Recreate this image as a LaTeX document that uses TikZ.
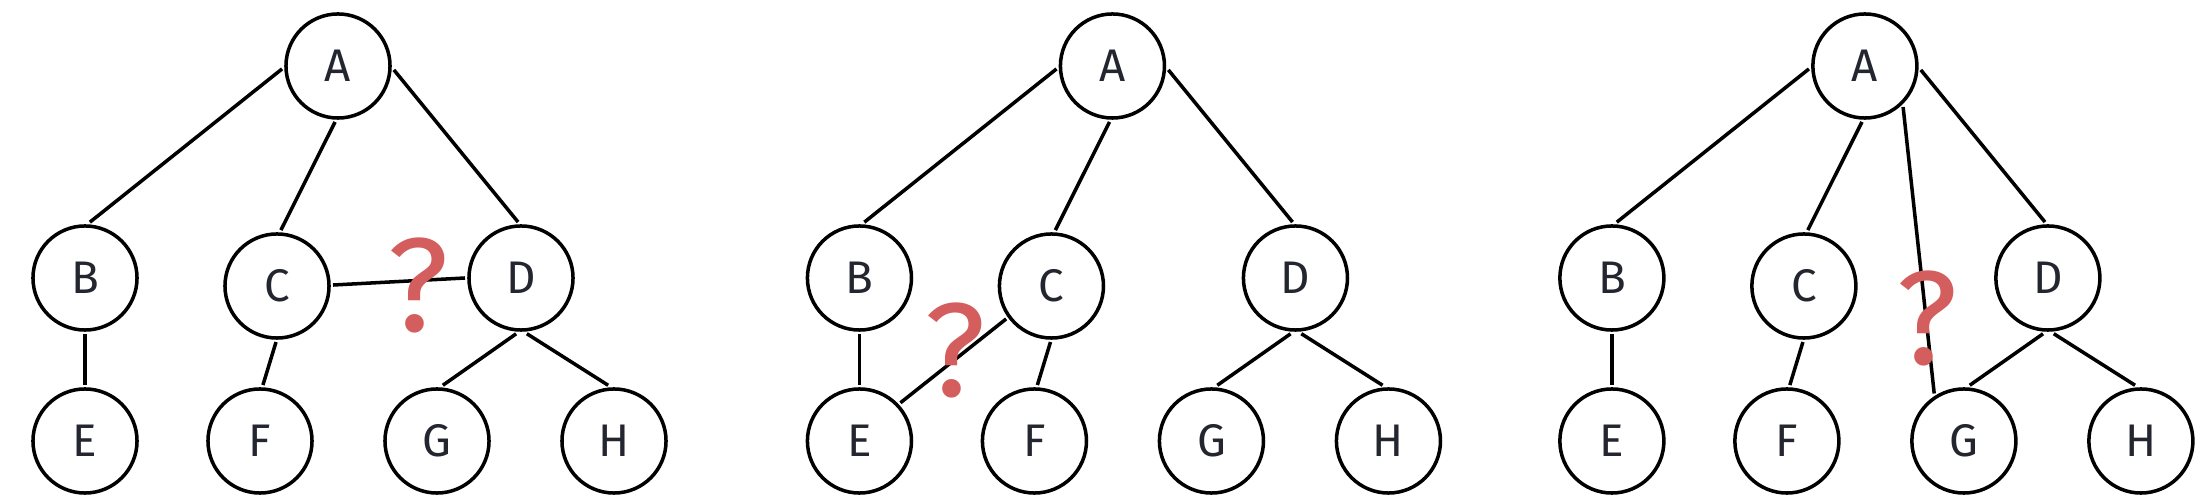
\documentclass[tikz,border=0pt]{standalone}
\usepackage{fontspec}
\setmainfont{Fira Sans}
\usetikzlibrary{shapes.geometric}
\definecolor{qred}{HTML}{D45D5D}
\definecolor{ink}{HTML}{23262F}
\tikzset{
  nd/.style={circle, draw=black, line width=1pt, minimum size=1.04cm,
    inner sep=0pt, outer sep=0.04cm, text=ink, font=\fontsize{13}{13}\selectfont},
  ed/.style={line width=1pt, draw=black},
  qm/.style={text=qred, font=\fontsize{38}{38}\selectfont, inner sep=0pt}
}
\begin{document}
\begin{tikzpicture}[x=0.01cm, y=-0.01cm]
\useasboundingbox (0,0) rectangle (2203,504);
% panel 1
\begin{scope}[xshift=0cm]
\node[nd] (A1) at (338,66) {A};
\node[nd] (B1) at (85,278) {B};
\node[nd] (C1) at (277,286) {C};
\node[nd] (D1) at (521,278) {D};
\node[nd] (E1) at (85,441) {E};
\node[nd] (F1) at (260,441) {F};
\node[nd] (G1) at (437,441) {G};
\node[nd] (H1) at (614,441) {H};
\end{scope}
\draw[ed] (A1.183) -- (B1.85);
\draw[ed] (A1.267) -- (C1.86);
\draw[ed] (A1.356) -- (D1.93);
\draw[ed] (C1.1) -- (D1.180);
\draw[ed] (B1.270) -- (E1.90);
\draw[ed] (C1.269) -- (F1.87);
\draw[ed] (D1.265) -- (G1.84);
\draw[ed] (D1.276) -- (H1.96);
\node[qm] (q1) at (418,285) {?};
% panel 2
\begin{scope}[xshift=7.74cm]
\node[nd] (A2) at (338,66) {A};
\node[nd] (B2) at (85,278) {B};
\node[nd] (C2) at (277,286) {C};
\node[nd] (D2) at (521,278) {D};
\node[nd] (E2) at (85,441) {E};
\node[nd] (F2) at (260,441) {F};
\node[nd] (G2) at (437,441) {G};
\node[nd] (H2) at (614,441) {H};
\coordinate (q2pos) at (181,350);
\end{scope}
\draw[ed] (A2.183) -- (B2.85);
\draw[ed] (A2.267) -- (C2.86);
\draw[ed] (A2.356) -- (D2.93);
\draw[ed] (B2.270) -- (E2.90);
\draw[ed] (C2.269) -- (F2.87);
\draw[ed] (D2.265) -- (G2.84);
\draw[ed] (D2.276) -- (H2.96);
\draw[ed] (C2.216) -- (E2.43);
\node[qm] (q2) at (q2pos) {?};
% panel 3
\begin{scope}[xshift=15.26cm]
\node[nd] (A3) at (338,66) {A};
\node[nd] (B3) at (85,278) {B};
\node[nd] (C3) at (277,286) {C};
\node[nd] (D3) at (521,278) {D};
\node[nd] (E3) at (85,441) {E};
\node[nd] (F3) at (260,441) {F};
\node[nd] (G3) at (437,441) {G};
\node[nd] (H3) at (614,441) {H};
\end{scope}
\draw[ed] (A3.183) -- (B3.85);
\draw[ed] (A3.267) -- (C3.86);
\draw[ed] (A3.356) -- (D3.93);
\draw[ed] (B3.270) -- (E3.90);
\draw[ed] (C3.269) -- (F3.87);
\draw[ed] (D3.265) -- (G3.84);
\draw[ed] (D3.276) -- (H3.96);
\draw[ed] (A3.313) -- (G3.122);
\node[qm] (q3) at (1927,318) {?};
\end{tikzpicture}
\end{document}
